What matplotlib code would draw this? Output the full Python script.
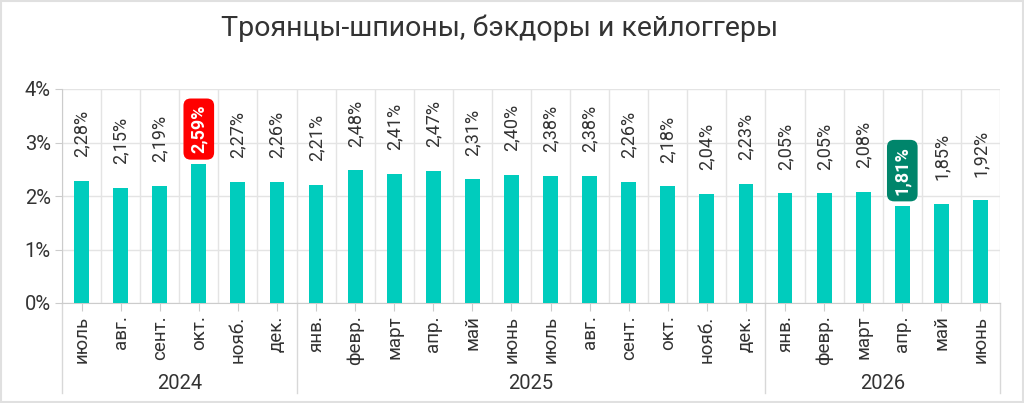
import matplotlib.pyplot as plt
import matplotlib.transforms as mtransforms
from matplotlib.patches import Rectangle

plt.rcParams['font.family'] = ['Roboto', 'DejaVu Sans']

months = ['июль', 'авг.', 'сент.', 'окт.', 'нояб.', 'дек.',
          'янв.', 'февр.', 'март', 'апр.', 'май', 'июнь',
          'июль', 'авг.', 'сент.', 'окт.', 'нояб.', 'дек.',
          'янв.', 'февр.', 'март', 'апр.', 'май', 'июнь']
values = [2.28, 2.15, 2.19, 2.59, 2.27, 2.26,
          2.21, 2.48, 2.41, 2.47, 2.31, 2.40,
          2.38, 2.38, 2.26, 2.18, 2.04, 2.23,
          2.05, 2.05, 2.08, 1.81, 1.85, 1.92]
years = ['2024', '2025', '2026']
year_sizes = [6, 12, 6]
highlight_max = 3
highlight_min = 21

bar_color = '#00CCBD'
grid_color = '#E4E4E4'
text_color = '#333333'

fig = plt.figure(figsize=(10.24, 4.03), dpi=100)
ax = fig.add_axes([62 / 1024, 1 - 303 / 403, 938 / 1024, 214 / 403])

x = list(range(len(values)))
ax.bar(x, values, width=0.38, color=bar_color, zorder=3)

ax.set_xlim(-0.5, len(values) - 0.5)
ax.set_ylim(0, 4)
ax.set_yticks([0, 1, 2, 3, 4])
ax.set_yticklabels([f'{v}%' for v in range(5)], fontsize=14.5, color=text_color)
ax.set_xticks(x)
ax.set_xticklabels(months, rotation=90, fontsize=13.5, color=text_color, va='top')
ax.set_xticks([i - 0.5 for i in range(len(values) + 1)], minor=True)
ax.tick_params(axis='x', which='major', length=6, color='#CCCCCC', pad=3)
ax.tick_params(axis='x', which='minor', length=0)
ax.tick_params(axis='y', length=5, color='#CCCCCC', pad=3)
ax.grid(axis='y', color=grid_color, lw=1, zorder=0)
ax.grid(axis='x', which='minor', color=grid_color, lw=1, zorder=0)
for s in ['top', 'right']:
    ax.spines[s].set_visible(False)
ax.spines['left'].set_color('#CCCCCC')
ax.spines['bottom'].set_color('#CCCCCC')

# year groups below the axis
trans = mtransforms.blended_transform_factory(ax.transData, ax.transAxes)
start = 0
bounds = [-0.5]
for name, n in zip(years, year_sizes):
    ax.text(start + (n - 1) / 2, -0.375, name, transform=trans, ha='center',
            va='center', fontsize=14.5, color=text_color)
    start += n
    bounds.append(start - 0.5)
for b in bounds:
    ax.plot([b, b], [0, -0.42], transform=trans, color='#D8D8D8', lw=1,
            clip_on=False)

# value labels
for i, v in enumerate(values):
    label = f'{v:.2f}%'.replace('.', ',')
    if i == highlight_max or i == highlight_min:
        box_color = '#FF0000' if i == highlight_max else '#00856B'
        ax.annotate(label, (i, v), xytext=(0, 8), textcoords='offset points',
                    rotation=90, ha='center', va='bottom', fontsize=13,
                    fontweight='bold', color='white', zorder=5,
                    bbox=dict(boxstyle='round,pad=0.35,rounding_size=0.4',
                              fc=box_color, ec='none'))
    else:
        ax.annotate(label, (i, v), xytext=(0, 17), textcoords='offset points',
                    rotation=90, ha='center', va='bottom', fontsize=13,
                    color=text_color, zorder=5)

fig.text(0.488, 1 - 28 / 403, 'Троянцы-шпионы, бэкдоры и кейлоггеры',
         ha='center', va='center', fontsize=20.5, color=text_color)

fig.patches.append(Rectangle((0.001, 0.002), 0.998, 0.996, transform=fig.transFigure,
                             fill=False, ec='#E0E0E0', lw=1.5))

fig.savefig('out.png', dpi=100)
